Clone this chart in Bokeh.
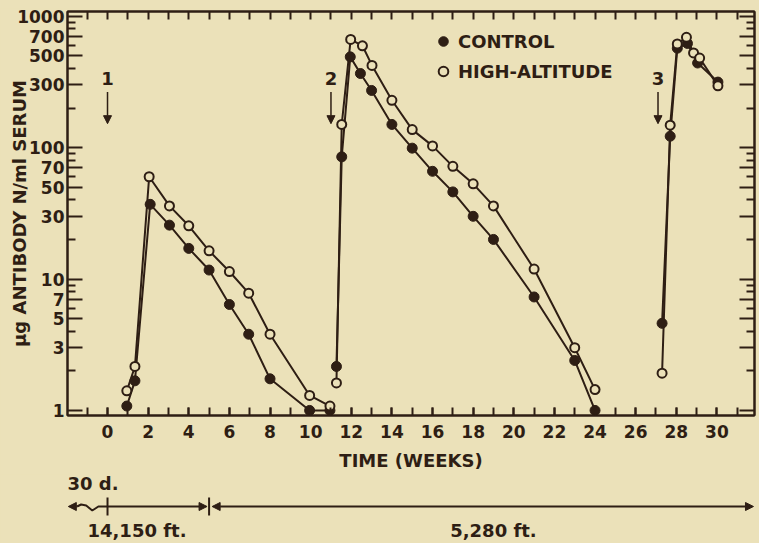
from bokeh.plotting import figure
from bokeh.models import (FixedTicker, LinearAxis, LogAxis, Range1d, Arrow, NormalHead,
                          Legend, LegendItem, ColumnDataSource)
from bokeh.layouts import column
from bokeh.embed import file_html
from bokeh.resources import INLINE
from bokeh.core.properties import value

# ---------------- data ----------------
# Cycle 1 (after injection 1)
ctrl_w1 = [0.95, 1.35, 2.1, 3.05, 4.0, 5.0, 6.0, 6.95, 8.0, 9.95, 10.95]
ctrl_v1 = [1.08, 1.68, 37, 25.7, 17.1, 11.7, 6.4, 3.8, 1.74, 1.0, 1.0]
high_w1 = [0.95, 1.35, 2.05, 3.05, 4.0, 5.0, 6.0, 6.95, 8.0, 9.95, 10.95]
high_v1 = [1.41, 2.16, 60, 36, 25.4, 16.4, 11.4, 7.8, 3.8, 1.30, 1.08]
# Cycle 2 (after injection 2)
ctrl_w2 = [11.27, 11.53, 11.95, 12.45, 13.0, 14.0, 15.0, 16.0, 17.0, 18.0, 19.0, 21.0, 23.0, 24.0]
ctrl_v2 = [2.16, 85, 490, 366, 272, 150, 99, 66, 46, 30, 20, 7.3, 2.4, 1.0]
high_w2 = [11.27, 11.53, 11.97, 12.55, 13.02, 14.0, 15.0, 16.0, 17.0, 18.0, 19.0, 21.0, 23.0, 24.0]
high_v2 = [1.62, 150, 665, 595, 422, 229, 137, 103, 72, 53, 36, 11.9, 3.0, 1.44]
# Cycle 3 (after injection 3)
ctrl_w3 = [27.3, 27.7, 28.05, 28.55, 29.05, 30.05]
ctrl_v3 = [4.6, 122, 570, 620, 440, 315]
high_w3 = [27.3, 27.7, 28.05, 28.5, 28.85, 29.15, 30.05]
high_v3 = [1.92, 148, 615, 690, 525, 480, 295]

injection_weeks = [0, 11, 27.1]
injection_labels = ["1", "2", "3"]

x_tick_labels = [str(w) for w in range(0, 31, 2)]
y_major = [1, 3, 5, 7, 10, 30, 50, 70, 100, 300, 500, 700, 1000]
y_tick_labels = ["1", "3", "5", "7", "10", "30", "50", "70", "100", "300", "500", "700", "1000"]
y_minor = [2, 4, 6, 8, 9, 20, 40, 60, 80, 90, 200, 400, 600, 800, 900]

phase_bounds = [0, 5, 31.85]
phase_labels = ["14,150 ft.", "5,280 ft."]
pre_label = "30 d."

# ---------------- styling ----------------
BG = "#EBE1B9"
INK = "#2E1E14"
FONT = "DejaVu Sans"

nan = float("nan")
ctrl_w = ctrl_w1 + [nan] + ctrl_w2 + [nan] + ctrl_w3
ctrl_v = ctrl_v1 + [nan] + ctrl_v2 + [nan] + ctrl_v3
high_w = high_w1 + [nan] + high_w2 + [nan] + high_w3
high_v = high_v1 + [nan] + high_v2 + [nan] + high_v3

W = 759
LEFT, RIGHT = 67, 5

p = figure(width=W, height=466, y_axis_type="log",
           x_range=Range1d(-1.97, 31.85), y_range=Range1d(0.915, 1085),
           output_backend="svg", toolbar_location=None,
           min_border_left=LEFT, min_border_right=RIGHT, min_border_top=3, min_border_bottom=59,
           background_fill_color=BG, border_fill_color=BG,
           outline_line_color=INK, outline_line_width=2)
p.xgrid.visible = False
p.ygrid.visible = False

weeks_all = list(range(-1, 32))
xa = p.xaxis[0]
xa.ticker = FixedTicker(ticks=[int(t) for t in x_tick_labels], minor_ticks=weeks_all)
ya = p.yaxis[0]
ya.ticker = FixedTicker(ticks=y_major, minor_ticks=y_minor)
ya.major_label_overrides = {v: t for v, t in zip(y_major, y_tick_labels)}

for ax in (xa, ya):
    ax.axis_line_color = INK
    ax.axis_line_width = 2
    ax.major_tick_line_color = INK
    ax.minor_tick_line_color = INK
    ax.major_tick_line_width = 2
    ax.minor_tick_line_width = 2
    ax.major_tick_out = 0
    ax.minor_tick_out = 0
    ax.major_label_text_color = INK
    ax.major_label_text_font = FONT
    ax.major_label_text_font_style = "bold"
    ax.major_label_text_font_size = "17px"
    ax.axis_label_text_color = INK
    ax.axis_label_text_font = FONT
    ax.axis_label_text_font_style = "bold"
    ax.axis_label_text_font_size = "18px"

xa.major_tick_in = 8
xa.minor_tick_in = 8
xa.major_label_standoff = 9
xa.axis_label = "TIME (WEEKS)"
xa.axis_label_standoff = 9

ya.major_tick_in = 15
ya.minor_tick_in = 8
ya.major_label_standoff = 3
ya.axis_label = "\u03bcg ANTIBODY N/ml SERUM"
ya.axis_label_standoff = -16

ta = LinearAxis(ticker=FixedTicker(ticks=weeks_all, minor_ticks=[]),
                major_label_text_color=None, major_label_text_font_size="1px",
                major_label_standoff=0,
                major_tick_in=8, major_tick_out=0, major_tick_line_width=2,
                major_tick_line_color=INK, axis_line_color=INK, axis_line_width=2)
p.add_layout(ta, "above")
ra = LogAxis(ticker=FixedTicker(ticks=y_major, minor_ticks=y_minor),
             major_label_text_color=None, major_label_text_font_size="1px",
             major_label_standoff=0,
             major_tick_in=15, major_tick_out=0, minor_tick_in=8, minor_tick_out=0,
             major_tick_line_width=2, minor_tick_line_width=2,
             major_tick_line_color=INK, minor_tick_line_color=INK,
             axis_line_color=INK, axis_line_width=2)
p.add_layout(ra, "right")

# data lines and markers
p.line(high_w, high_v, line_color=INK, line_width=2)
p.line(ctrl_w, ctrl_v, line_color=INK, line_width=2)
rc = p.scatter(ctrl_w, ctrl_v, marker="circle", size=10, fill_color=INK, line_color=INK, line_width=1)
rh = p.scatter(high_w, high_v, marker="circle", size=9, fill_color=BG, line_color=INK, line_width=2)

# injection arrows
src = ColumnDataSource(dict(x=injection_weeks, y0=[265] * 3, y1=[152] * 3))
p.add_layout(Arrow(end=NormalHead(size=8, fill_color=INK, line_color=INK, line_width=1),
                   x_start="x", y_start="y0", x_end="x", y_end="y1",
                   line_color=INK, line_width=1.5, source=src))
p.text(x=injection_weeks, y=[335] * 3, text=injection_labels, text_align="center",
       text_baseline="middle", text_font=value(FONT), text_font_style="bold",
       text_font_size="18px", text_color=INK)

legend = Legend(items=[LegendItem(label="CONTROL", renderers=[rc]),
                       LegendItem(label="HIGH-ALTITUDE", renderers=[rh])],
                location=(364, 332), background_fill_alpha=0, border_line_alpha=0,
                padding=0, margin=0, spacing=6, glyph_width=24, glyph_height=24,
                label_standoff=3, label_text_font=FONT, label_text_font_style="bold",
                label_text_font_size="18px", label_text_color=INK)
p.add_layout(legend)

# ---------------- altitude annotation strip ----------------
q = figure(width=W, height=69, x_range=p.x_range, y_range=Range1d(0, 69),
           output_backend="svg", toolbar_location=None,
           x_axis_location=None, y_axis_location=None,
           min_border_left=LEFT, min_border_right=RIGHT, min_border_top=0, min_border_bottom=0,
           background_fill_color=BG, border_fill_color=BG, outline_line_color=None)
q.grid.visible = False

LY = 37
head = lambda: NormalHead(size=8, fill_color=INK, line_color=INK, line_width=1)
q.add_layout(Arrow(end=head(), x_start=phase_bounds[0], y_start=LY,
                   x_end=phase_bounds[1] - 0.1, y_end=LY, line_color=INK, line_width=2))
q.add_layout(Arrow(start=head(), end=head(), x_start=phase_bounds[1] + 0.15, y_start=LY,
                   x_end=phase_bounds[2] - 0.05, y_end=LY, line_color=INK, line_width=2))
q.add_layout(Arrow(end=head(), x_start=-1.5, y_start=LY, x_end=-1.93, y_end=LY,
                   line_color=INK, line_width=2))
q.line([-1.5, -1.3, -1.05, -0.75, -0.45, 0], [LY, LY + 2, LY + 1, LY - 4, LY, LY],
       line_color=INK, line_width=2)
q.segment(x0=phase_bounds[:2], y0=[28, 28], x1=phase_bounds[:2], y1=[46, 46],
          line_color=INK, line_width=2)
q.text(x=[-1.97], y=[60], text=[pre_label], text_align="left", text_baseline="middle",
       text_font=value(FONT), text_font_style="bold", text_font_size="18px", text_color=INK)
q.text(x=[1.45, 19.0], y=[13, 13], text=phase_labels, text_align="center",
       text_baseline="middle", text_font=value(FONT), text_font_style="bold",
       text_font_size="18px", text_color=INK)

layout = column(p, q)
template = """
{% block postamble %}
<style>html, body { background-color: #EBE1B9; } body { margin: 8px 0 0 0; overflow: hidden; }</style>
{% endblock %}
"""
open("out.html", "w").write(file_html(layout, INLINE, template=template))
